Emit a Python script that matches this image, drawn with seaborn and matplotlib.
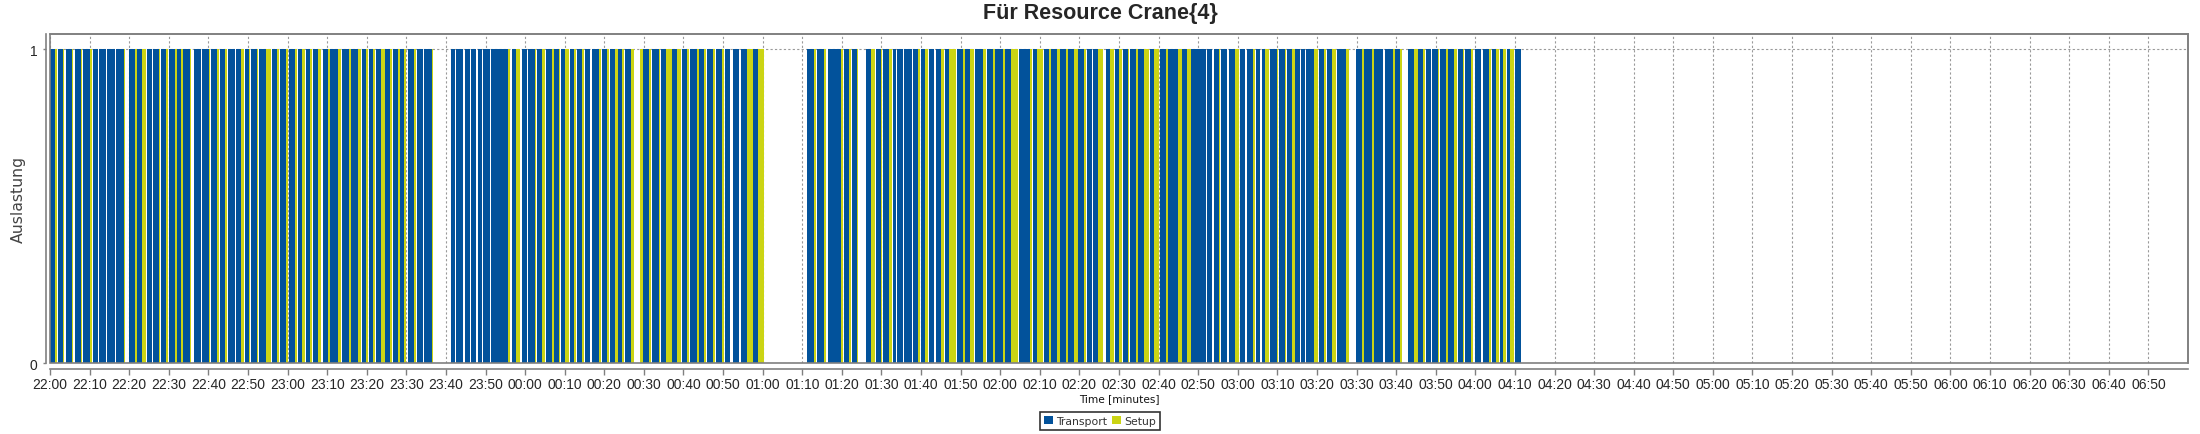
import numpy as np
import pandas as pd
import matplotlib
matplotlib.use('Agg')
import matplotlib.pyplot as plt
import matplotlib.patches as mpatches
import seaborn as sns

# minutes after 22:00: transport start, transport end (= setup start), setup end
transport_start = [0.0, 2.0, 4.0, 6.3, 8.4, 10.8, 12.4, 14.5, 16.6, 20.0,
                   22.1, 24.5, 26.1, 28.0, 30.0, 32.2, 33.7, 36.3, 38.4, 40.6,
                   42.9, 45.0, 46.9, 49.2, 50.8, 52.9, 56.1, 58.1, 60.3, 62.6,
                   64.7, 66.4, 68.9, 70.8, 73.8, 76.1, 78.8, 80.5, 82.4, 84.6,
                   86.6, 88.5, 90.3, 92.8, 94.5, 101.2, 102.5, 104.8, 106.4, 108.0,
                   109.4, 111.3, 113.0, 114.5, 116.6, 119.1, 120.8, 122.9, 125.4, 127.4,
                   129.1, 131.3, 133.1, 135.0, 137.0, 139.4, 141.4, 143.5, 145.3, 148.9,
                   149.9, 152.0, 154.3, 157.2, 159.7, 161.7, 163.9, 165.9, 168.1, 170.4,
                   172.4, 174.5, 177.6, 191.3, 193.7, 196.4, 197.8, 200.5, 202.6, 206.2,
                   208.5, 210.4, 212.9, 214.0, 215.7, 218.0, 219.9, 222.0, 223.9, 226.0,
                   229.2, 231.2, 233.7, 236.7, 238.7, 241.3, 244.7, 248.2, 251.0, 252.9,
                   255.2, 257.2, 259.7, 261.9, 263.4, 266.7, 269.0, 270.9, 272.8, 274.9,
                   277.8, 280.3, 282.5, 286.0, 288.3, 290.3, 292.3, 294.0, 295.8, 297.7,
                   300.5, 302.4, 304.5, 306.1, 308.1, 310.4, 312.4, 314.5, 315.9, 317.3,
                   320.4, 322.5, 325.0, 329.9, 331.9, 334.5, 337.1, 339.8, 343.0, 345.6,
                   347.6, 349.0, 351.1, 353.2, 355.6, 357.5, 359.8, 361.9, 364.2, 366.2,
                   367.9, 370.0]
transport_end = [1.3, 3.2, 5.5, 7.8, 10.1, 12.0, 14.1, 16.3, 18.6, 21.4,
                 23.3, 25.8, 27.5, 29.2, 31.5, 33.2, 35.3, 38.1, 40.1, 42.2,
                 44.1, 46.6, 48.3, 50.2, 52.2, 54.6, 57.3, 59.7, 61.8, 63.6,
                 65.7, 67.8, 70.2, 72.7, 75.4, 77.9, 79.8, 81.5, 83.6, 86.0,
                 87.8, 89.5, 92.0, 94.3, 96.4, 102.2, 104.4, 106.2, 107.7, 109.2,
                 111.1, 112.8, 114.3, 115.6, 117.7, 120.5, 122.4, 124.3, 126.8, 128.5,
                 130.2, 132.4, 134.4, 136.5, 138.6, 140.7, 142.8, 144.5, 146.8, 148.9,
                 151.4, 153.7, 155.5, 158.3, 160.8, 163.4, 165.2, 167.4, 169.7, 171.8,
                 174.1, 176.1, 178.7, 193.0, 195.5, 197.7, 199.9, 201.9, 203.7, 207.3,
                 209.8, 211.9, 213.8, 215.5, 217.6, 219.2, 221.1, 223.4, 225.1, 227.0,
                 230.6, 232.3, 235.7, 238.2, 240.7, 242.8, 247.4, 249.3, 252.2, 254.4,
                 256.6, 258.7, 261.1, 263.2, 264.6, 267.8, 270.1, 272.2, 274.3, 276.2,
                 278.9, 281.8, 285.0, 287.2, 290.2, 291.9, 293.6, 295.3, 297.2, 299.3,
                 301.9, 303.9, 305.6, 307.0, 309.8, 311.9, 313.7, 315.6, 317.1, 319.2,
                 321.9, 323.8, 327.4, 331.3, 333.9, 336.6, 339.2, 341.0, 344.6, 346.9,
                 348.8, 350.5, 352.6, 354.5, 356.8, 358.9, 361.4, 363.4, 365.2, 367.1,
                 368.7, 371.6]
setup_end = [1.8, 3.5, 5.9, 8.2, 10.5, 12.0, 14.1, 16.3, 18.9, 21.9,
             24.2, 25.8, 27.8, 29.7, 32.0, 33.5, 35.7, 38.1, 40.4, 42.6,
             44.7, 46.6, 49.0, 50.6, 52.6, 55.9, 57.8, 60.1, 62.4, 64.5,
             66.1, 68.5, 70.6, 73.5, 75.9, 78.6, 80.3, 82.1, 84.5, 86.4,
             88.3, 90.0, 92.5, 94.3, 96.8, 102.4, 104.4, 106.2, 107.7, 109.2,
             111.1, 112.8, 114.3, 116.3, 118.6, 120.5, 122.8, 125.1, 127.2, 128.9,
             131.0, 132.9, 134.8, 136.5, 139.2, 141.3, 143.4, 145.0, 147.4, 149.7,
             151.8, 154.1, 157.1, 159.3, 161.3, 163.8, 165.6, 168.0, 170.3, 171.8,
             174.1, 177.5, 180.3, 193.5, 196.1, 197.7, 200.3, 202.4, 204.1, 208.3,
             210.2, 212.7, 213.8, 215.5, 217.6, 219.7, 221.8, 223.4, 225.7, 228.9,
             231.0, 233.5, 236.5, 238.6, 241.1, 244.5, 248.0, 250.8, 252.7, 255.0,
             257.1, 259.6, 261.7, 263.2, 265.9, 268.8, 270.7, 272.6, 274.7, 277.6,
             280.2, 282.3, 285.8, 288.1, 290.2, 291.9, 293.6, 295.6, 297.2, 300.3,
             301.9, 304.3, 305.6, 307.8, 310.2, 312.3, 314.4, 315.6, 317.1, 320.2,
             322.4, 324.9, 328.2, 331.8, 334.3, 336.6, 339.6, 341.5, 345.5, 347.4,
             348.8, 350.9, 353.0, 355.3, 357.2, 359.5, 361.4, 364.0, 366.1, 367.7,
             369.8, 371.6]

tick_labels = ['22:00', '22:10', '22:20', '22:30', '22:40', '22:50',
               '23:00', '23:10', '23:20', '23:30', '23:40', '23:50',
               '00:00', '00:10', '00:20', '00:30', '00:40', '00:50',
               '01:00', '01:10', '01:20', '01:30', '01:40', '01:50',
               '02:00', '02:10', '02:20', '02:30', '02:40', '02:50',
               '03:00', '03:10', '03:20', '03:30', '03:40', '03:50',
               '04:00', '04:10', '04:20', '04:30', '04:40', '04:50',
               '05:00', '05:10', '05:20', '05:30', '05:40', '05:50',
               '06:00', '06:10', '06:20', '06:30', '06:40', '06:50']
series_names = ['Transport', 'Setup']

blue = '#02529b'
yellow = '#cbd414'

df = pd.DataFrame({'t0': transport_start, 't1': transport_end, 't2': setup_end})

sns.set_style('white')
plt.rcParams['font.family'] = ['Liberation Sans', 'DejaVu Sans']

fig = plt.figure(figsize=(22, 4.35), dpi=100)
ax = fig.add_axes([50/2200, 1-364/435, (2188-50)/2200, (364-35)/435])

# bars
ax.bar(df['t0'], 1, width=df['t1'] - df['t0'], align='edge', color=blue, linewidth=0, zorder=2)
st = df[df['t2'] > df['t1']]
ax.bar(st['t1'], 1, width=st['t2'] - st['t1'], align='edge', color=yellow, linewidth=0, zorder=2)

ax.set_xlim(0, 540)
ax.set_ylim(0, 1.048)

ax.set_xticks(np.arange(len(tick_labels)) * 10)
ax.set_xticklabels(tick_labels, fontsize=7.7, color='#111111')
ax.set_yticks([0, 1])
ax.set_yticklabels(['0', '1'], fontsize=8.2, color='#555555', family='DejaVu Sans')

ax.grid(True, axis='both', color='#9a9a9a', linestyle=(0, (2, 2)), linewidth=0.8, zorder=0)
ax.set_axisbelow(True)

for s in ['top', 'right']:
    ax.spines[s].set_color('#808080')
    ax.spines[s].set_linewidth(1.2)
ax.spines['left'].set_position(('outward', 3))
ax.spines['bottom'].set_position(('outward', 4))
for s in ['left', 'bottom']:
    ax.spines[s].set_color('#808080')
    ax.spines[s].set_linewidth(1.2)
ax.add_patch(mpatches.Rectangle((0, 0), 1, 1, transform=ax.transAxes, fill=False,
                                edgecolor='#808080', linewidth=1.2, zorder=5, clip_on=False))

ax.tick_params(axis='x', length=4, width=1, color='#808080', pad=2, bottom=True)
ax.tick_params(axis='y', length=2, width=1, color='#808080', pad=4, left=True)

ax.set_xlabel('Time [minutes]', fontsize=7.6, color='#111111', labelpad=1.5, family='DejaVu Sans')
ax.set_ylabel('Auslastung', fontsize=11.3, color='#444444', labelpad=3, family='DejaVu Sans')

fig.suptitle('Für Resource Crane{4}', fontsize=15.5, fontweight='bold',
             x=0.5, y=1-14/435, va='center')

handles = [mpatches.Patch(facecolor=blue, edgecolor='none'),
           mpatches.Patch(facecolor=yellow, edgecolor='none')]
leg = fig.legend(handles, series_names, loc='center', bbox_to_anchor=(1100/2200, 1-422/435),
                 ncol=2, prop={'family': 'DejaVu Sans', 'size': 7.8}, frameon=True,
                 fancybox=False, edgecolor='black',
                 handlelength=0.8, handleheight=0.8, handletextpad=0.3, columnspacing=0.5,
                 borderpad=0.35, borderaxespad=0)
leg.get_frame().set_linewidth(1.2)
for t in leg.get_texts():
    t.set_color('#333333')

fig.savefig('out.png', dpi=100)
